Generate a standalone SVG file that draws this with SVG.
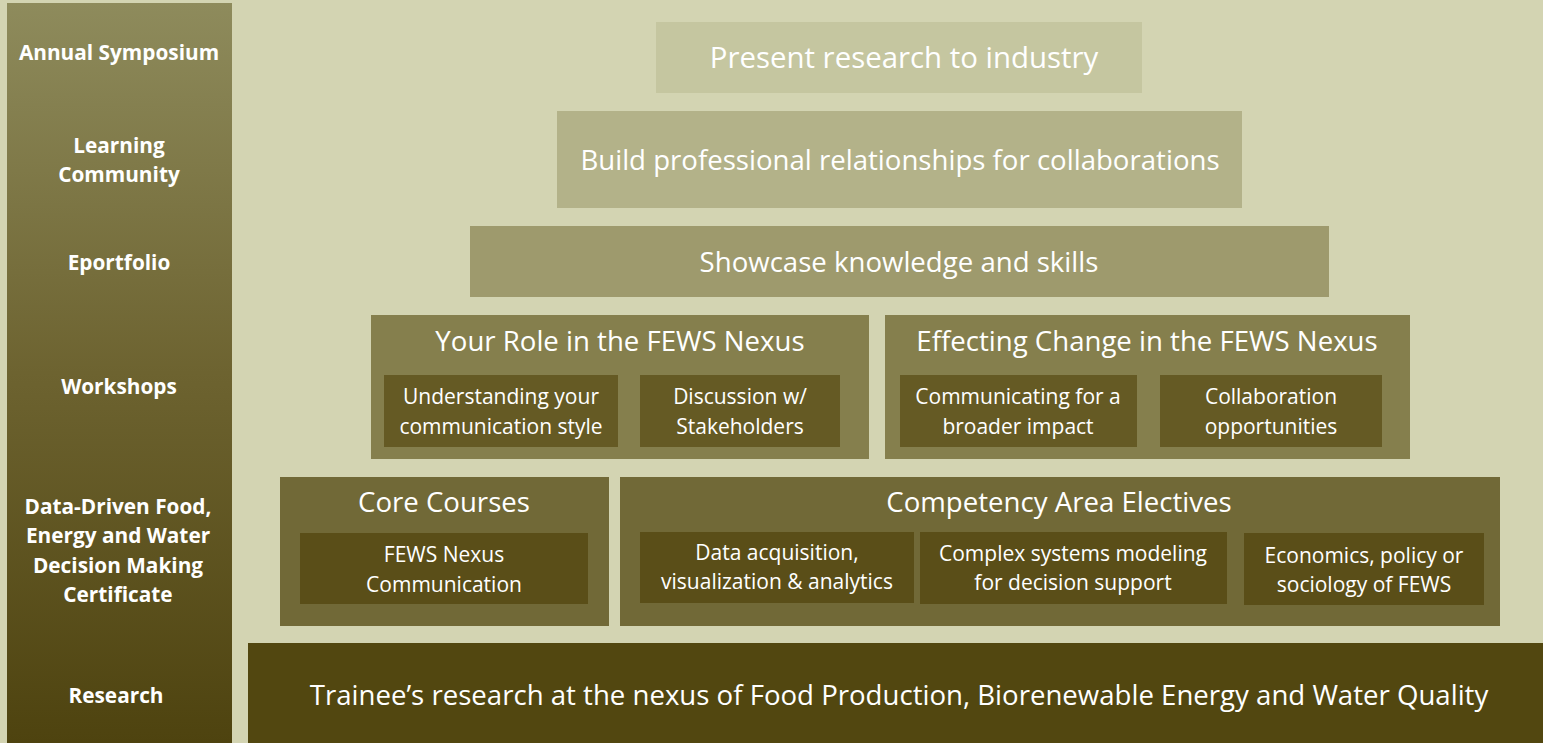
<svg xmlns="http://www.w3.org/2000/svg" width="1543" height="743" viewBox="0 0 1543 743">
  <defs>
    <linearGradient id="sideGrad" x1="0" y1="0" x2="0" y2="1">
      <stop offset="0" stop-color="#8E8B5C"/>
      <stop offset="0.5" stop-color="#6D6330"/>
      <stop offset="1" stop-color="#4E430F"/>
    </linearGradient>
  </defs>
  <style>
    text { font-family: "Open Sans", Lato, "Liberation Sans", sans-serif; fill: #FFFFFF; text-anchor: middle; dominant-baseline: central; }
    .side { font-weight: bold; font-size: 20.8px; }
    .big { font-size: 29.4px; }
    .mid { font-size: 27.6px; }
    .small { font-size: 21px; }
    .t1 { fill: #C5C6A0; }
    .t2 { fill: #B3B289; }
    .t3 { fill: #9E9A6D; }
    .ws { fill: #857F4D; }
    .wsIn { fill: #655A24; }
    .cert { fill: #716937; }
    .certIn { fill: #5A4E18; }
    .res { fill: #524710; }
  </style>

  <!-- background -->
  <rect x="0" y="0" width="1543" height="743" fill="#D3D4B2"/>

  <!-- level labels column -->
  <g id="levels">
    <rect x="7" y="3" width="225" height="740" fill="url(#sideGrad)"/>
    <text class="side" x="119" y="52">Annual Symposium</text>
    <text class="side" x="119" y="145">Learning</text>
    <text class="side" x="119" y="174">Community</text>
    <text class="side" x="119" y="262">Eportfolio</text>
    <text class="side" x="119" y="386">Workshops</text>
    <text class="side" x="118" y="506">Data-Driven Food,</text>
    <text class="side" x="118" y="535">Energy and Water</text>
    <text class="side" x="118" y="565">Decision Making</text>
    <text class="side" x="118" y="594">Certificate</text>
    <text class="side" x="116" y="695">Research</text>
  </g>

  <!-- symposium tier -->
  <g id="symposium">
    <rect class="t1" x="656" y="22" width="486" height="71"/>
    <text class="big" x="904" y="57">Present research to industry</text>
  </g>

  <!-- learning community tier -->
  <g id="community">
    <rect class="t2" x="557" y="111" width="685" height="97"/>
    <text class="mid" x="900" y="159">Build professional relationships for collaborations</text>
  </g>

  <!-- eportfolio tier -->
  <g id="eportfolio">
    <rect class="t3" x="470" y="226" width="859" height="71"/>
    <text class="mid" x="899" y="261">Showcase knowledge and skills</text>
  </g>

  <!-- workshops tier -->
  <g id="workshop-role">
    <rect class="ws" x="371" y="315" width="498" height="144"/>
    <text class="mid" x="620" y="340">Your Role in the FEWS Nexus</text>
    <rect class="wsIn" x="384" y="375" width="234" height="72"/>
    <text class="small" x="501" y="396">Understanding your</text>
    <text class="small" x="501" y="426">communication style</text>
    <rect class="wsIn" x="640" y="375" width="200" height="72"/>
    <text class="small" x="740" y="396">Discussion w/</text>
    <text class="small" x="740" y="426">Stakeholders</text>
  </g>

  <g id="workshop-change">
    <rect class="ws" x="885" y="315" width="525" height="144"/>
    <text class="mid" x="1147" y="340">Effecting Change in the FEWS Nexus</text>
    <rect class="wsIn" x="900" y="375" width="237" height="72"/>
    <text class="small" x="1018" y="396">Communicating for a</text>
    <text class="small" x="1018" y="426">broader impact</text>
    <rect class="wsIn" x="1160" y="375" width="222" height="72"/>
    <text class="small" x="1271" y="396">Collaboration</text>
    <text class="small" x="1271" y="426">opportunities</text>
  </g>

  <!-- certificate tier -->
  <g id="core-courses">
    <rect class="cert" x="280" y="477" width="329" height="149"/>
    <text class="mid" x="444" y="501">Core Courses</text>
    <rect class="certIn" x="300" y="533" width="288" height="71"/>
    <text class="small" x="444" y="554">FEWS Nexus</text>
    <text class="small" x="444" y="584">Communication</text>
  </g>

  <g id="electives">
    <rect class="cert" x="620" y="477" width="880" height="149"/>
    <text class="mid" x="1059" y="501">Competency Area Electives</text>
    <rect class="certIn" x="640" y="532" width="274" height="71"/>
    <text class="small" x="777" y="552">Data acquisition,</text>
    <text class="small" x="777" y="581">visualization &amp; analytics</text>
    <rect class="certIn" x="920" y="532" width="307" height="72"/>
    <text class="small" x="1073" y="553">Complex systems modeling</text>
    <text class="small" x="1073" y="582">for decision support</text>
    <rect class="certIn" x="1244" y="533" width="240" height="72"/>
    <text class="small" x="1364" y="555">Economics, policy or</text>
    <text class="small" x="1364" y="584">sociology of FEWS</text>
  </g>

  <!-- research base -->
  <g id="research">
    <rect class="res" x="248" y="643" width="1295" height="100"/>
    <text class="mid" x="899" y="694">Trainee’s research at the nexus of Food Production, Biorenewable Energy and Water Quality</text>
  </g>

  <!-- no connectors in this layout -->
  <g id="connectors"/>
</svg>
